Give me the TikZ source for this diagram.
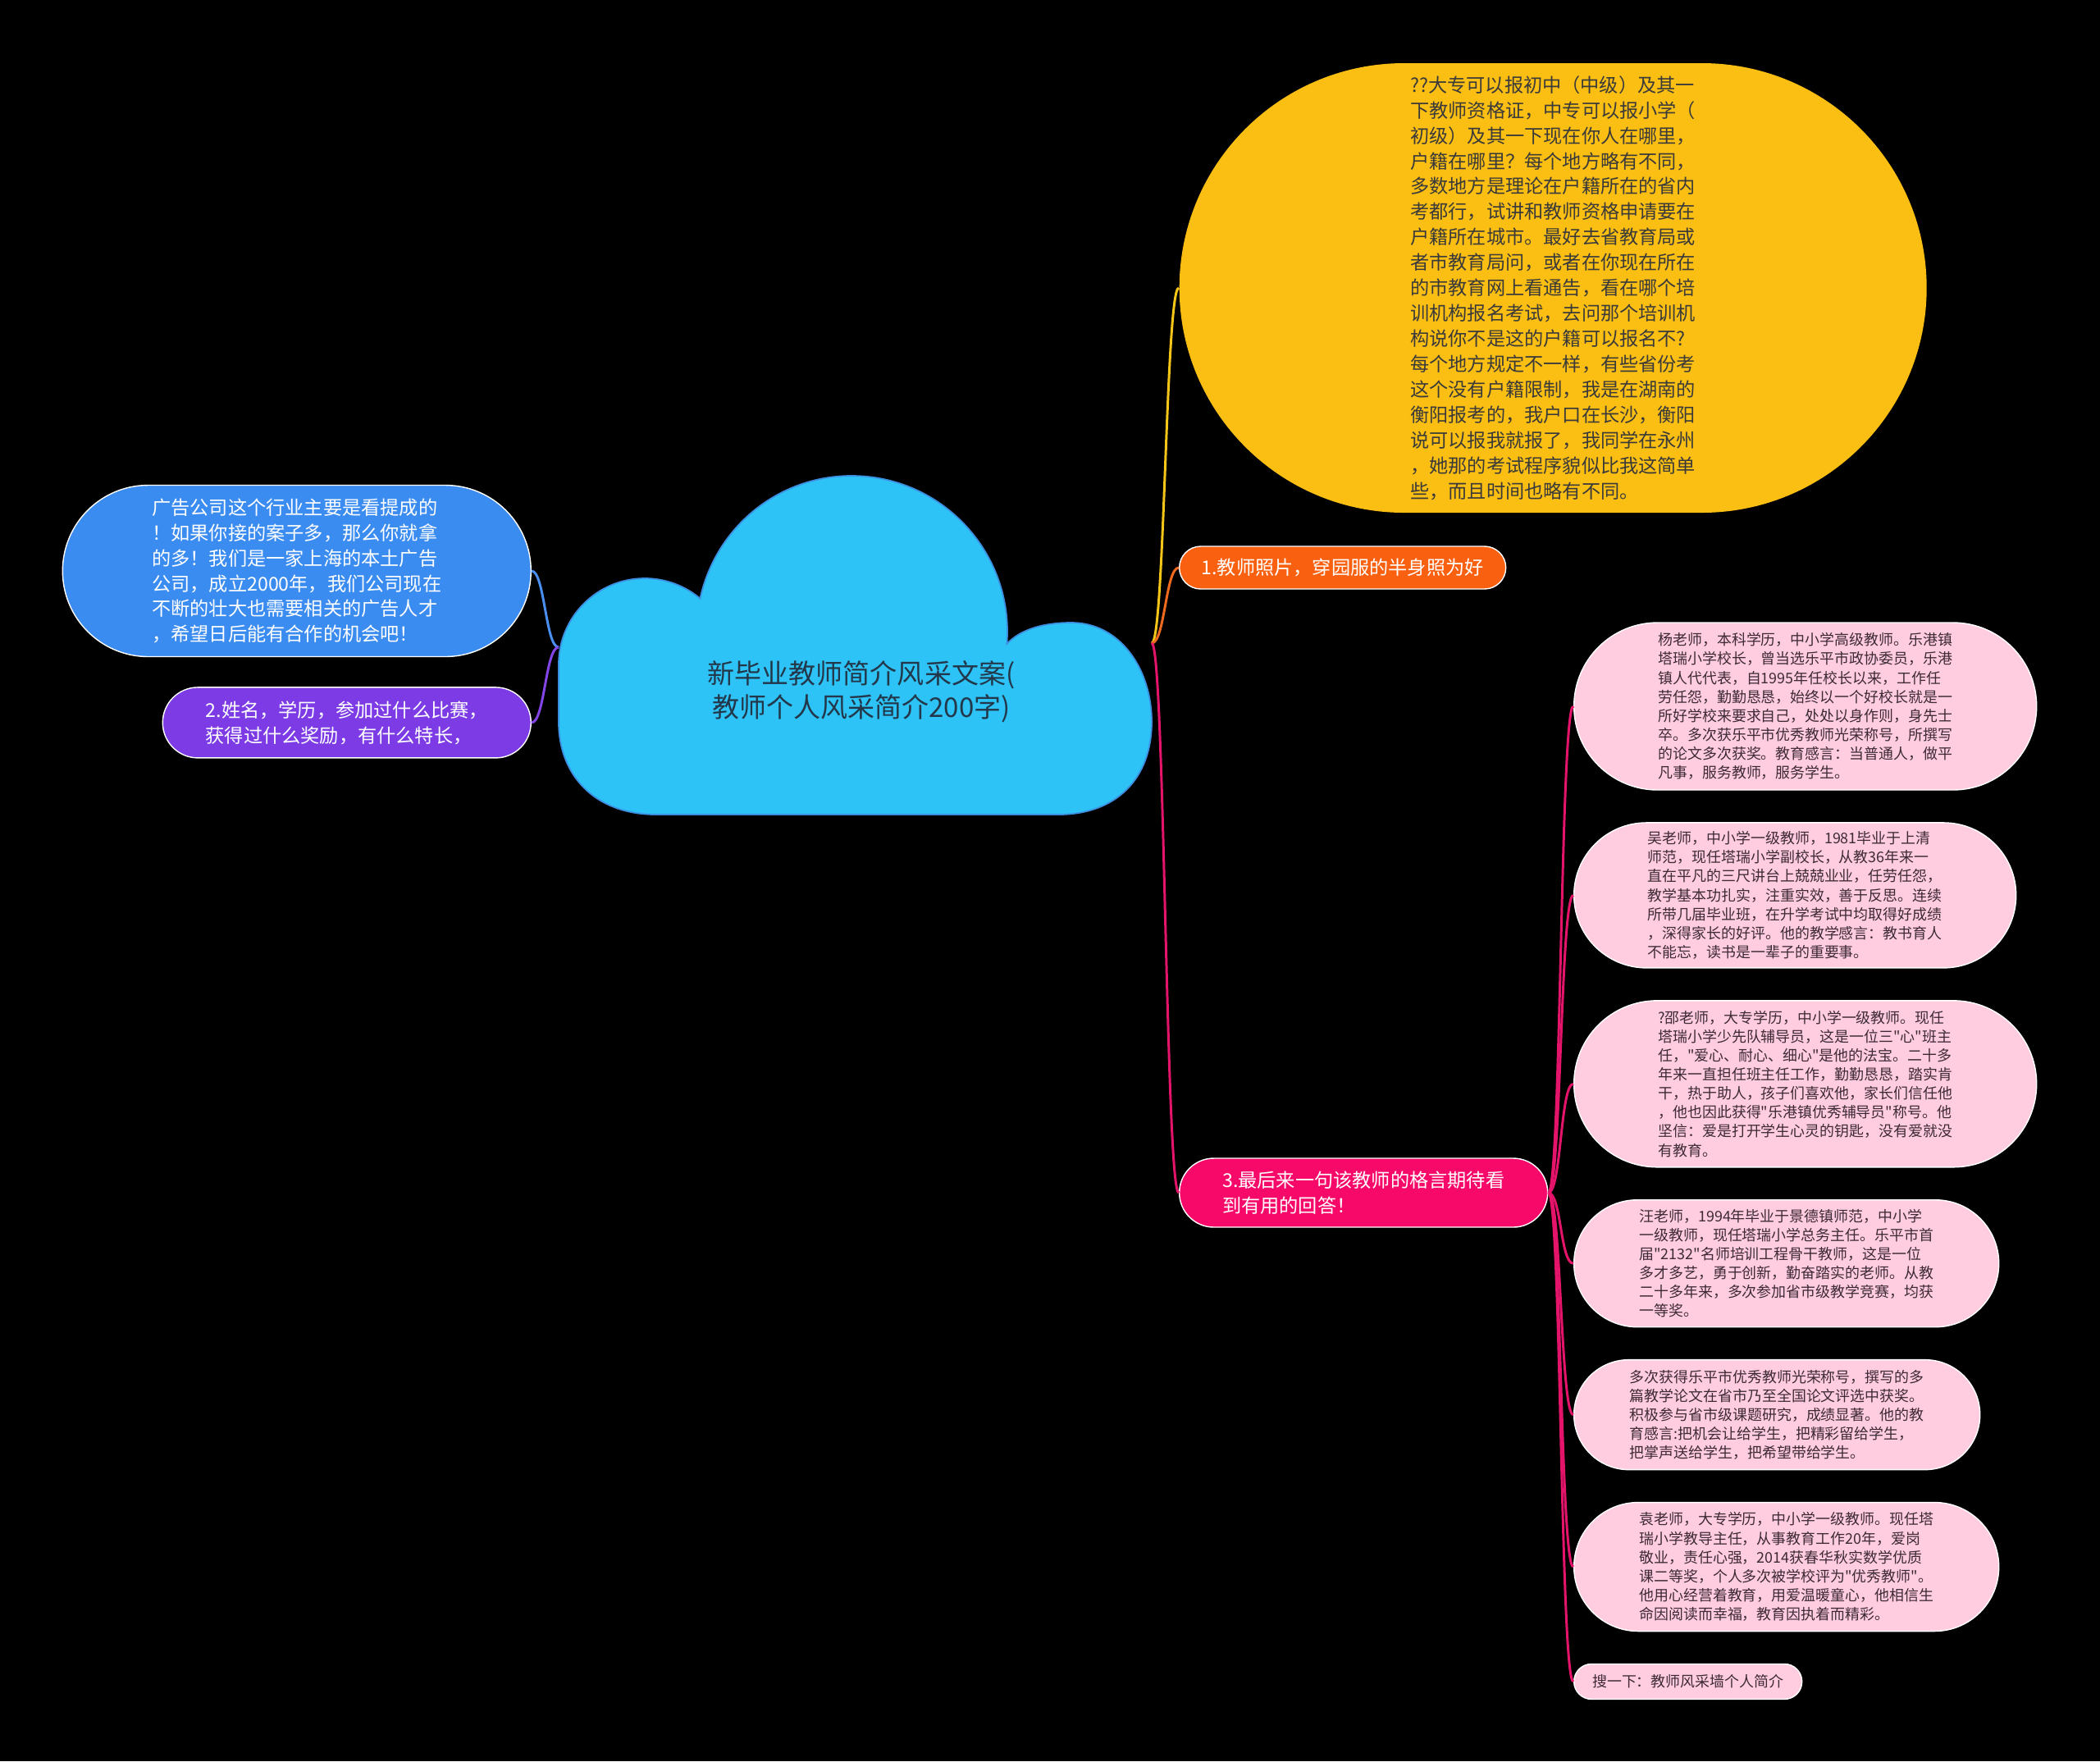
\documentclass[tikz,border=0pt]{standalone}
\usepackage{fontspec}
\setmainfont[Ligatures=TeXOff]{Noto Sans CJK SC}
\usetikzlibrary{positioning}
\definecolor{cloudblue}{HTML}{2EC3F6}
\definecolor{cloudedge}{HTML}{3C8FE0}
\definecolor{roottext}{HTML}{22384A}
\definecolor{tipyellow}{HTML}{FBBE12}
\definecolor{tiptext}{HTML}{3A3A3A}
\definecolor{photoorange}{HTML}{F9600F}
\definecolor{mottopink}{HTML}{F7096A}
\definecolor{adblue}{HTML}{3B8CF1}
\definecolor{infopurple}{HTML}{7C3BE5}
\definecolor{kidpink}{HTML}{FFCCE0}
\definecolor{kidtext}{HTML}{3D2A35}
\definecolor{tipline}{HTML}{F5C518}
\definecolor{photoline}{HTML}{EE6A1F}
\definecolor{mottoline}{HTML}{E3146A}
\definecolor{adline}{HTML}{4A8EEF}
\definecolor{infoline}{HTML}{8445E6}
\newcommand\rootfont{\fontsize{9.4pt}{11.7pt}\selectfont}
\newcommand\topicfont{\fontsize{6.6pt}{8.8pt}\selectfont}
\newcommand\kidfont{\fontsize{5.1pt}{6.57pt}\selectfont}

\begin{document}
\begin{tikzpicture}[x=1mm,y=-1mm,node distance=3.85mm,
puff/.style={fill=cloudblue,draw=cloudedge,line width=0.5pt},
topic/.style={draw=white,line width=0.4pt,text=white,font=\topicfont,align=left,inner sep=0pt,rounded corners=#1},
kid/.style={draw=white,line width=0.4pt,fill=kidpink,text=kidtext,font=\kidfont,align=left,inner sep=0pt,rounded corners=#1},
link/.style={line width=0.85pt}]
\fill[black] (0,0) rectangle (256,214.7);
% central cloud
\filldraw[puff] (68.1,81) .. controls (68.1,75.2) and (72.8,70.5) .. (78.6,70.5)
  .. controls (81.07,70.5) and (83.46,71.37) .. (85.35,72.96)
  .. controls (87.25,64.25) and (94.88,58) .. (103.8,58)
  .. controls (114.87,58) and (123.61,67.45) .. (122.74,78.49)
  .. controls (124.5,76.6) and (127.5,75.9) .. (130.6,75.9)
  .. controls (136.5,75.9) and (140.4,81.5) .. (140.4,88)
  .. controls (140.4,95) and (136,99.3) .. (129,99.3)
  -- (80,99.3) .. controls (72.5,99.3) and (68.1,94.5) .. (68.1,88) -- cycle;
\node[font=\rootfont,text=roottext,align=center] (root) at (105,84.3) {新毕业教师简介风采文案(\\教师个人风采简介200字)};
\coordinate (root-r) at (140.4,78.4);
\coordinate (root-l) at (68.1,78.9);
% right branches
\node[topic=27.4mm,draw=none,fill=tipyellow,text=tiptext,minimum width=91.1mm,minimum height=54.8mm,anchor=west] (tip) at (143.7,35.1) {??大专可以报初中（中级）及其一\\下教师资格证，中专可以报小学（\\初级）及其一下现在你人在哪里，\\户籍在哪里？每个地方略有不同，\\多数地方是理论在户籍所在的省内\\考都行，试讲和教师资格申请要在\\户籍所在城市。最好去省教育局或\\者市教育局问，或者在你现在所在\\的市教育网上看通告，看在哪个培\\训机构报名考试，去问那个培训机\\构说你不是这的户籍可以报名不?\\每个地方规定不一样，有些省份考\\这个没有户籍限制，我是在湖南的\\衡阳报考的，我户口在长沙，衡阳\\说可以报我就报了，我同学在永州\\，她那的考试程序貌似比我这简单\\些，而且时间也略有不同。};
\node[topic=2.6mm,fill=photoorange,minimum width=39.8mm,minimum height=5.2mm,anchor=west] (photo) at (143.7,69.2) {1.教师照片，穿园服的半身照为好};
\node[topic=4.2mm,fill=mottopink,minimum width=44.9mm,minimum height=8.4mm,anchor=west] (motto) at (143.7,145.4) {3.最后来一句该教师的格言期待看\\到有用的回答！};
% left branches
\node[topic=10.45mm,fill=adblue,minimum width=57.1mm,minimum height=20.9mm,anchor=east] (ad) at (64.8,69.6) {广告公司这个行业主要是看提成的\\！如果你接的案子多，那么你就拿\\的多！我们是一家上海的本土广告\\公司，成立2000年，我们公司现在\\不断的壮大也需要相关的广告人才\\，希望日后能有合作的机会吧！};
\node[topic=4.3mm,fill=infopurple,minimum width=44.9mm,minimum height=8.6mm,below=3.6mm of ad.south east,anchor=north east] (info) {2.姓名，学历，参加过什么比赛，\\获得过什么奖励，有什么特长，};
% teacher examples
\node[kid=10.2mm,minimum width=56.4mm,minimum height=20.4mm,anchor=west] (yang) at (191.8,86.1) {杨老师，本科学历，中小学高级教师。乐港镇\\塔瑞小学校长，曾当选乐平市政协委员，乐港\\镇人代代表，自1995年任校长以来，工作任\\劳任怨，勤勤恳恳，始终以一个好校长就是一\\所好学校来要求自己，处处以身作则，身先士\\卒。多次获乐平市优秀教师光荣称号，所撰写\\的论文多次获奖。教育感言：当普通人，做平\\凡事，服务教师，服务学生。};
\node[kid=8.85mm,minimum width=53.9mm,minimum height=17.7mm,below=of yang.south west,anchor=north west] (wu) {吴老师，中小学一级教师，1981毕业于上清\\师范，现任塔瑞小学副校长，从教36年来一\\直在平凡的三尺讲台上兢兢业业，任劳任怨，\\教学基本功扎实，注重实效，善于反思。连续\\所带几届毕业班，在升学考试中均取得好成绩\\，深得家长的好评。他的教学感言：教书育人\\不能忘，读书是一辈子的重要事。};
\node[kid=10.15mm,minimum width=56.4mm,minimum height=20.3mm,below=of wu.south west,anchor=north west] (shao) {?邵老师，大专学历，中小学一级教师。现任\\塔瑞小学少先队辅导员，这是一位三"心"班主\\任，"爱心、耐心、细心"是他的法宝。二十多\\年来一直担任班主任工作，勤勤恳恳，踏实肯\\干，热于助人，孩子们喜欢他，家长们信任他\\，他也因此获得"乐港镇优秀辅导员"称号。他\\坚信：爱是打开学生心灵的钥匙，没有爱就没\\有教育。};
\node[kid=7.75mm,minimum width=51.8mm,minimum height=15.5mm,below=of shao.south west,anchor=north west] (wang) {汪老师，1994年毕业于景德镇师范，中小学\\一级教师，现任塔瑞小学总务主任。乐平市首\\届"2132"名师培训工程骨干教师，这是一位\\多才多艺，勇于创新，勤奋踏实的老师。从教\\二十多年来，多次参加省市级教学竞赛，均获\\一等奖。};
\node[kid=6.7mm,minimum width=49.5mm,minimum height=13.4mm,below=of wang.south west,anchor=north west] (honor) {多次获得乐平市优秀教师光荣称号，撰写的多\\篇教学论文在省市乃至全国论文评选中获奖。\\积极参与省市级课题研究，成绩显著。他的教\\育感言:把机会让给学生，把精彩留给学生，\\把掌声送给学生，把希望带给学生。};
\node[kid=7.85mm,minimum width=51.8mm,minimum height=15.7mm,below=of honor.south west,anchor=north west] (yuan) {袁老师，大专学历，中小学一级教师。现任塔\\瑞小学教导主任，从事教育工作20年，爱岗\\敬业，责任心强，2014获春华秋实数学优质\\课二等奖，个人多次被学校评为"优秀教师"。\\他用心经营着教育，用爱温暖童心，他相信生\\命因阅读而幸福，教育因执着而精彩。};
\node[kid=2.15mm,minimum width=27.8mm,minimum height=4.3mm,below=of yuan.south west,anchor=north west] (search) {搜一下：教师风采墙个人简介};
% connectors
\draw[link,tipline] (root-r) .. controls +(1.6,0) and +(-1.6,0) .. (tip.west);
\draw[link,photoline] (root-r) .. controls +(1.6,0) and +(-1.6,0) .. (photo.west);
\draw[link,mottoline] (root-r) .. controls +(1.6,0) and +(-1.6,0) .. (motto.west);
\draw[link,adline] (root-l) .. controls +(-1.6,0) and +(1.6,0) .. (ad.east);
\draw[link,infoline] (root-l) .. controls +(-1.6,0) and +(1.6,0) .. (info.east);
\draw[link,mottoline] (motto.east) .. controls +(1.6,0) and +(-1.6,0) .. (yang.west);
\draw[link,mottoline] (motto.east) .. controls +(1.6,0) and +(-1.6,0) .. (wu.west);
\draw[link,mottoline] (motto.east) .. controls +(1.6,0) and +(-1.6,0) .. (shao.west);
\draw[link,mottoline] (motto.east) .. controls +(1.6,0) and +(-1.6,0) .. (wang.west);
\draw[link,mottoline] (motto.east) .. controls +(1.6,0) and +(-1.6,0) .. (honor.west);
\draw[link,mottoline] (motto.east) .. controls +(1.6,0) and +(-1.6,0) .. (yuan.west);
\draw[link,mottoline] (motto.east) .. controls +(1.6,0) and +(-1.6,0) .. (search.west);
\end{tikzpicture}
\end{document}
